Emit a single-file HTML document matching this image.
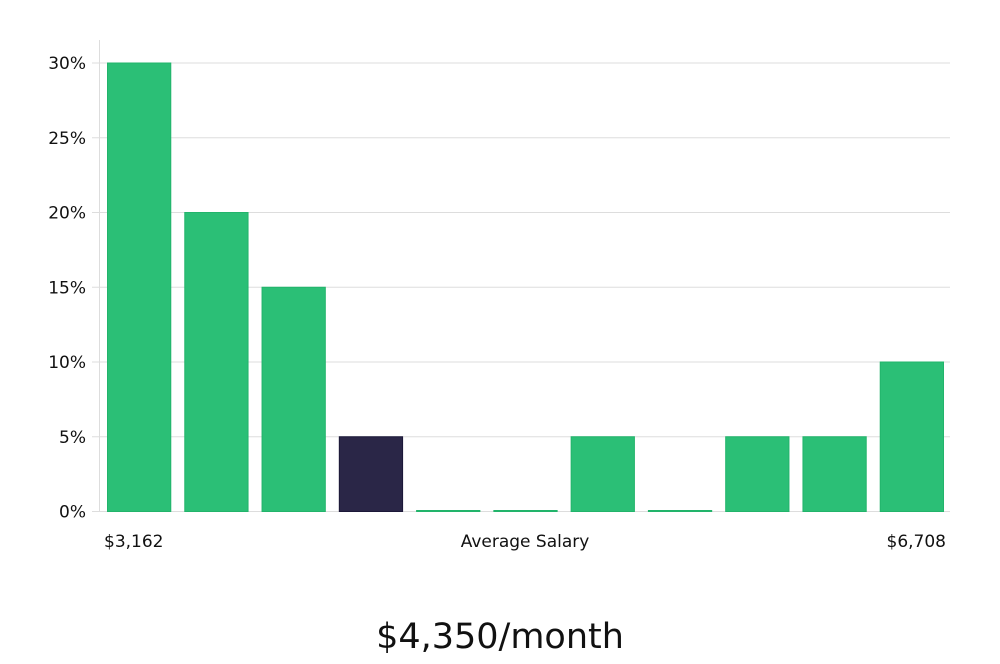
<!DOCTYPE html>
<html><head><meta charset="utf-8"><style>
body{margin:0;background:#fff;width:1000px;height:660px;overflow:hidden;font-family:"DejaVu Sans","Liberation Sans",sans-serif;}
</style></head><body>
<svg width="1000" height="660" xmlns="http://www.w3.org/2000/svg">
<g id="grid"></g>
<g id="bars"></g>
<g id="yticks"></g>
<line x1="99.5" y1="40" x2="99.5" y2="512" stroke="#ddd"/>
<text x="104" y="547" font-size="17" fill="#111">$3,162</text>
<text x="525" y="547" font-size="17" fill="#111" text-anchor="middle">Average Salary</text>
<text x="946" y="547" font-size="17" fill="#111" text-anchor="end">$6,708</text>
<text x="500" y="648" font-size="35" fill="#111" text-anchor="middle">$4,350/month</text>
</svg>
<script>
const values = [30, 20, 15, 5, 0, 0, 5, 0, 5, 5, 10];
const highlight = [false, false, false, true, false, false, false, false, false, false, false];
const yTicks = [0, 5, 10, 15, 20, 25, 30];
const yTickLabels = ["0%", "5%", "10%", "15%", "20%", "25%", "30%"];
const NS = "http://www.w3.org/2000/svg";
const x0 = 100, x1 = 950, yBase = 511.5, yTop = 63;
const yScale = v => yBase - (yBase - yTop) * v / 30;
const band = (x1 - x0) / values.length;
const xScale = i => x0 + i * band;
const grid = document.getElementById('grid'), yt = document.getElementById('yticks'), bars = document.getElementById('bars');
yTicks.forEach((t, i) => {
  const y = yScale(t);
  const l = document.createElementNS(NS, 'line');
  l.setAttribute('x1', 92); l.setAttribute('x2', x1); l.setAttribute('y1', y); l.setAttribute('y2', y);
  l.setAttribute('stroke', '#ddd');
  
  
  grid.appendChild(l);
  const tx = document.createElementNS(NS, 'text');
  tx.setAttribute('x', 86); tx.setAttribute('y', y + 6); tx.setAttribute('text-anchor', 'end');
  tx.setAttribute('font-size', '17'); tx.setAttribute('fill', '#111');
  tx.textContent = yTickLabels[i];
  
  
  yt.appendChild(tx);
});
values.forEach((v, i) => {
  const r = document.createElementNS(NS, 'rect');
  const y = yScale(v);
  const h = Math.max(yBase - y, 1);
  r.setAttribute('x', xScale(i) + 7.5); r.setAttribute('width', band - 14);
  r.setAttribute('y', yBase - h); r.setAttribute('height', h);
  r.setAttribute('fill', highlight[i] ? '#2a2647' : '#2bbf76');
  r.setAttribute('stroke', highlight[i] ? '#1c1838' : '#22b46b');
  r.setAttribute('stroke-width', '1');
  
  
  bars.appendChild(r);
});
</script>
</body></html>
